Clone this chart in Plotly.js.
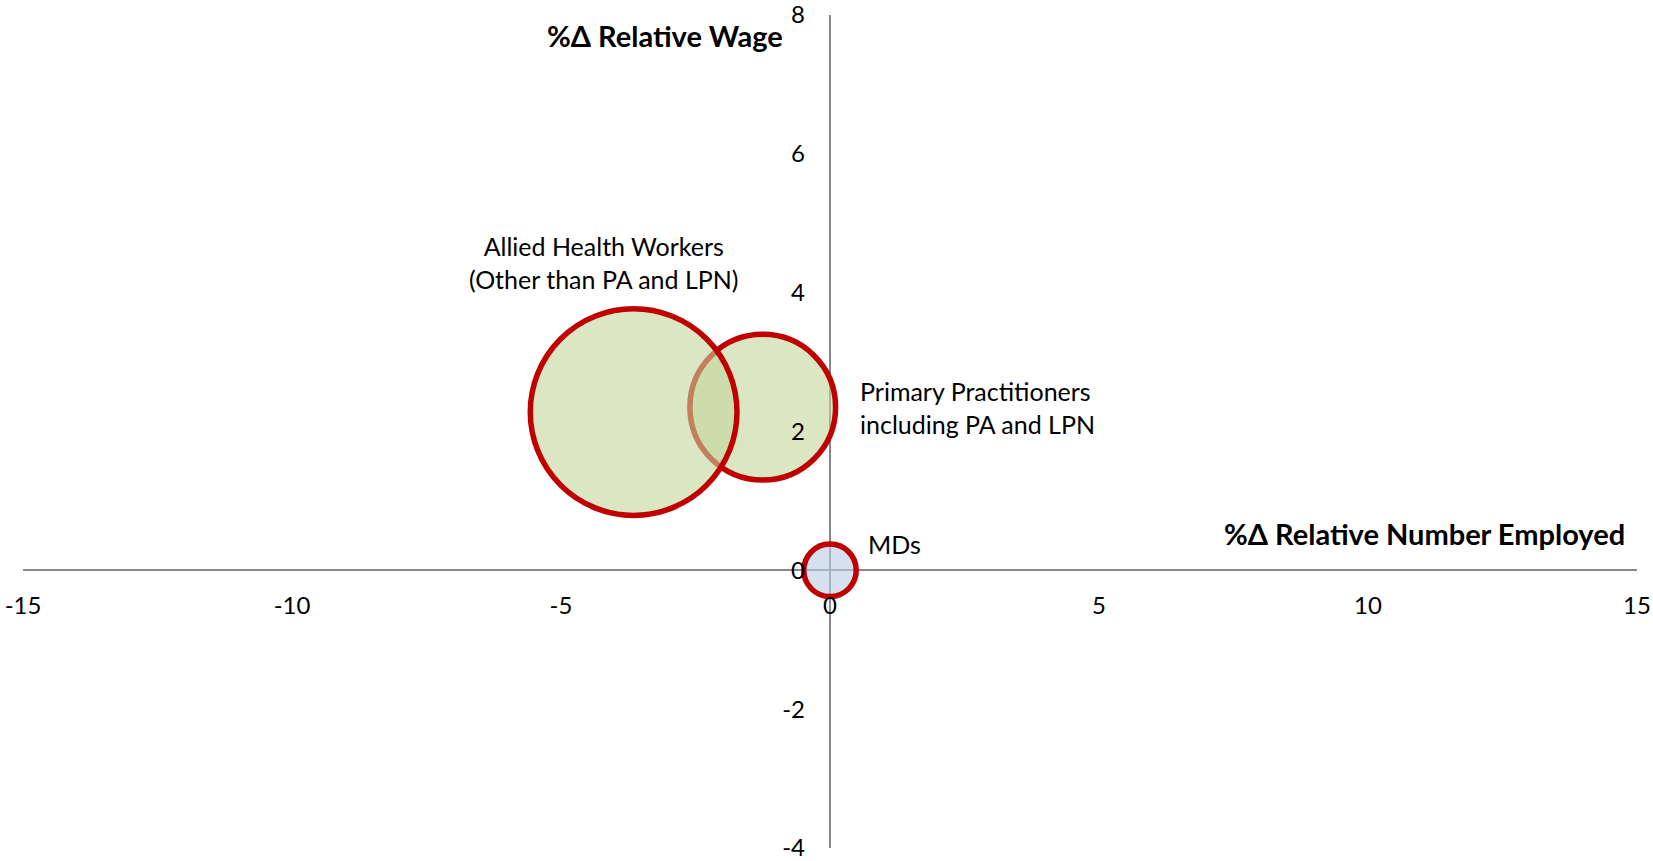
<!DOCTYPE html>
<html><head><meta charset="utf-8">
<script src="https://cdn.plot.ly/plotly-3.0.1.min.js"></script>
<style>html,body{margin:0;padding:0;background:#fff}</style>
</head><body>
<div id="chart" style="width:1653px;height:861px"></div>
<script>
// Data (drawing order: Primary, Allied, MDs)
const groups = ['Primary Practitioners<br>including PA and LPN', 'Allied Health Workers<br>(Other than PA and LPN)', 'MDs'];
const relNumberEmployed = [-1.25, -3.65, 0];
const relWage = [2.35, 2.28, 0];
const bubbleSize = [7.7, 15.5, 1];
const fillColors = ['rgba(195,214,155,0.6)', 'rgba(195,214,155,0.6)', 'rgba(185,205,229,0.6)'];
const xTickVals = [-15, -10, -5, 0, 5, 10, 15];
const xTickText = ['-15', '-10', '-5', '0', '5', '10', '15'];
const yTickVals = [-4, -2, 0, 2, 4, 6, 8];
const yTickText = ['-4', '-2', '0', '2', '4', '6', '8'];
const xRange = [-15, 15];
const yRange = [-4, 8];

// label offsets (px) relative to each bubble
const labelOffsets = [
  {xshift: 95, yshift: 0, xanchor: 'left', align: 'left'},
  {xshift: -30, yshift: 150, xanchor: 'center', align: 'center'},
  {xshift: 36, yshift: 26, xanchor: 'left', align: 'left'}
];

const FONT = 'Lato, "Open Sans", sans-serif';

const trace = {
  type: 'scatter',
  mode: 'markers',
  x: relNumberEmployed,
  y: relWage,
  text: groups,
  hoverinfo: 'text',
  marker: {
    size: bubbleSize,
    sizemode: 'area',
    sizeref: 2 / (52.5 * 52.5),
    opacity: 1,
    color: fillColors,
    line: {color: '#C00000', width: 5.5}
  },
  showlegend: false
};

const annotations = groups.map((g, i) => Object.assign({
  x: relNumberEmployed[i], y: relWage[i], xref: 'x', yref: 'y',
  text: g, showarrow: false, yanchor: 'middle',
  font: {family: FONT, size: 25, color: '#000'}
}, labelOffsets[i]));

annotations.push({
  xref: 'paper', yref: 'paper', x: 0.4721, y: 0.975, xanchor: 'right', yanchor: 'middle',
  text: '<b>%Δ Relative Wage</b>', showarrow: false,
  font: {family: FONT, size: 29, color: '#000'}
});
annotations.push({
  xref: 'paper', yref: 'paper', x: 0.9938, y: 0.378, xanchor: 'right', yanchor: 'middle',
  text: '<b>%Δ Relative Number Employed</b>', showarrow: false,
  font: {family: FONT, size: 29, color: '#000'}
});

const layout = {
  width: 1653, height: 861,
  margin: {l: 23, r: 16, t: 15, b: 13},
  paper_bgcolor: '#fff', plot_bgcolor: '#fff',
  font: {family: FONT, size: 24, color: '#000'},
  xaxis: {
    range: xRange, tickvals: xTickVals, ticktext: xTickText, showgrid: false, showline: false,
    zeroline: true, zerolinecolor: '#888888', zerolinewidth: 2,
    anchor: 'free', position: (0 - yRange[0]) / (yRange[1] - yRange[0]),
    ticks: '', ticklabelstandoff: 19, ticklabeloverflow: 'allow',
    tickfont: {family: FONT, size: 24, color: '#000'}
  },
  yaxis: {
    range: yRange, tickvals: yTickVals, ticktext: yTickText, showgrid: false, showline: false,
    zeroline: true, zerolinecolor: '#888888', zerolinewidth: 2,
    anchor: 'free', position: (0 - xRange[0]) / (xRange[1] - xRange[0]),
    ticks: '', ticklabelstandoff: 25, ticklabeloverflow: 'allow',
    tickfont: {family: FONT, size: 24, color: '#000'}
  },
  annotations: annotations
};

Plotly.newPlot('chart', [trace], layout, {displayModeBar: false, responsive: false});
</script>
</body></html>
